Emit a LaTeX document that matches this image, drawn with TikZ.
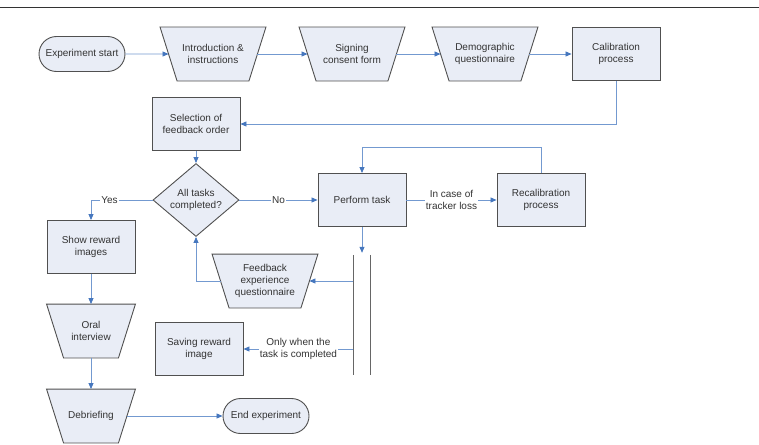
\documentclass[tikz,border=0pt]{standalone}
\usepackage{fontspec}
\setmainfont{Liberation Sans}
\usetikzlibrary{shapes.geometric,shapes.misc,arrows.meta,backgrounds}
\definecolor{boxfill}{HTML}{E9EDF6}
\definecolor{boxline}{HTML}{505050}
\definecolor{flowline}{HTML}{7399D0}
\definecolor{flowtip}{HTML}{4677BE}
\newcommand{\flowfont}{\fontsize{10}{12}\selectfont}
% manual operation box: name, position, width at half height, text
\newcommand{\manualbox}[4]{%
  \node[base, draw=none, fill=none, minimum width=#3, minimum height=53pt] (#1) at (#2) {#4};
  \begin{scope}[on background layer]
    \filldraw[boxshape] ([xshift=-8.5pt]#1.north west) -- ([xshift=8.5pt]#1.north east)
      -- ([xshift=-8.5pt]#1.south east) -- ([xshift=8.5pt]#1.south west) -- cycle;
  \end{scope}}

\tikzset{
  boxshape/.style={draw=boxline, fill=boxfill, line width=0.9pt},
  base/.style={boxshape, text=black!80, align=center, font=\flowfont, inner sep=1pt},
  proc/.style={base, rectangle, minimum width=88pt, minimum height=53pt},
  term/.style={base, rounded rectangle, minimum width=88pt, minimum height=35pt},
  decide/.style={base, diamond, minimum width=86pt, minimum height=52pt, inner sep=0pt},
  flow/.style={draw=flowline, line width=0.8pt,
    -{Triangle[length=6pt,width=5pt,color=flowtip]}},
  lbl/.style={fill=white, inner sep=1pt, text=black!80, font=\flowfont, align=center}
}

\begin{document}
\begin{tikzpicture}[x=1pt,y=-1pt]
    \useasboundingbox (0,0) rectangle (759,444);
    \draw[line width=0.8pt, black!80] (0,7) -- (759,7);

    % top row
    \node[term] (start) at (82,54) {Experiment start};
    \manualbox{intro}{213,54}{88pt}{Introduction \&\\instructions}
    \manualbox{consent}{352,54}{88pt}{Signing\\consent form}
    \manualbox{demo}{485,54}{88pt}{Demographic\\questionnaire}
    \node[proc] (calib) at (616,54) {Calibration\\process};

    % task loop
    \node[proc] (select) at (196,124) {Selection of\\feedback order};
    \node[decide] (done) at (196,200) {All tasks\\completed?};
    \node[proc] (perform) at (362,200) {Perform task};
    \node[proc] (recal) at (541,200) {Recalibration\\process};
    \manualbox{feedback}{265,281}{88pt}{Feedback\\experience\\questionnaire}
    \node[proc] (saving) at (199,349) {Saving reward\\image};
    \node[minimum width=17pt, minimum height=120pt, inner sep=0pt] (sync) at (362,315) {};
    \draw[line width=1pt, black!60] (sync.north west) -- (sync.south west);
    \draw[line width=1pt, black!60] (sync.north east) -- (sync.south east);

    % end part
    \node[proc] (reward) at (91,247) {Show reward\\images};
    \manualbox{oral}{91,331}{71pt}{Oral\\interview}
    \manualbox{debrief}{91,416}{71pt}{Debriefing}
    \node[term] (finish) at (266,416) {End experiment};

    \draw[flow] (start) -- (intro);
    \draw[flow] (intro) -- (consent);
    \draw[flow] (consent) -- (demo);
    \draw[flow] (demo) -- (calib);
    \draw[flow] (calib.south) |- (select.east);
    \draw[flow] (select) -- (done);
    \draw[flow] (done.west) -| node[lbl, pos=0.35] {Yes} (reward.north);
    \draw[flow] (done) -- node[lbl] {No} (perform);
    \draw[flow] (perform) -- node[lbl] {In case of\\tracker loss} (recal);
    \draw[flow] (recal.north) -- ([yshift=26pt]recal.north) -| (perform.north);
    \draw[flow] (perform.south) -- ([yshift=2pt]sync.north);
    \draw[flow] (sync.west |- feedback) -- (feedback);
    \draw[flow] (feedback) -| (done.south);
    \draw[flow] (sync.west |- saving) -- node[lbl] {Only when the\\task is completed} (saving);
    \draw[flow] (reward) -- (oral);
    \draw[flow] (oral) -- (debrief);
    \draw[flow] (debrief) -- (finish);
\end{tikzpicture}
\end{document}
